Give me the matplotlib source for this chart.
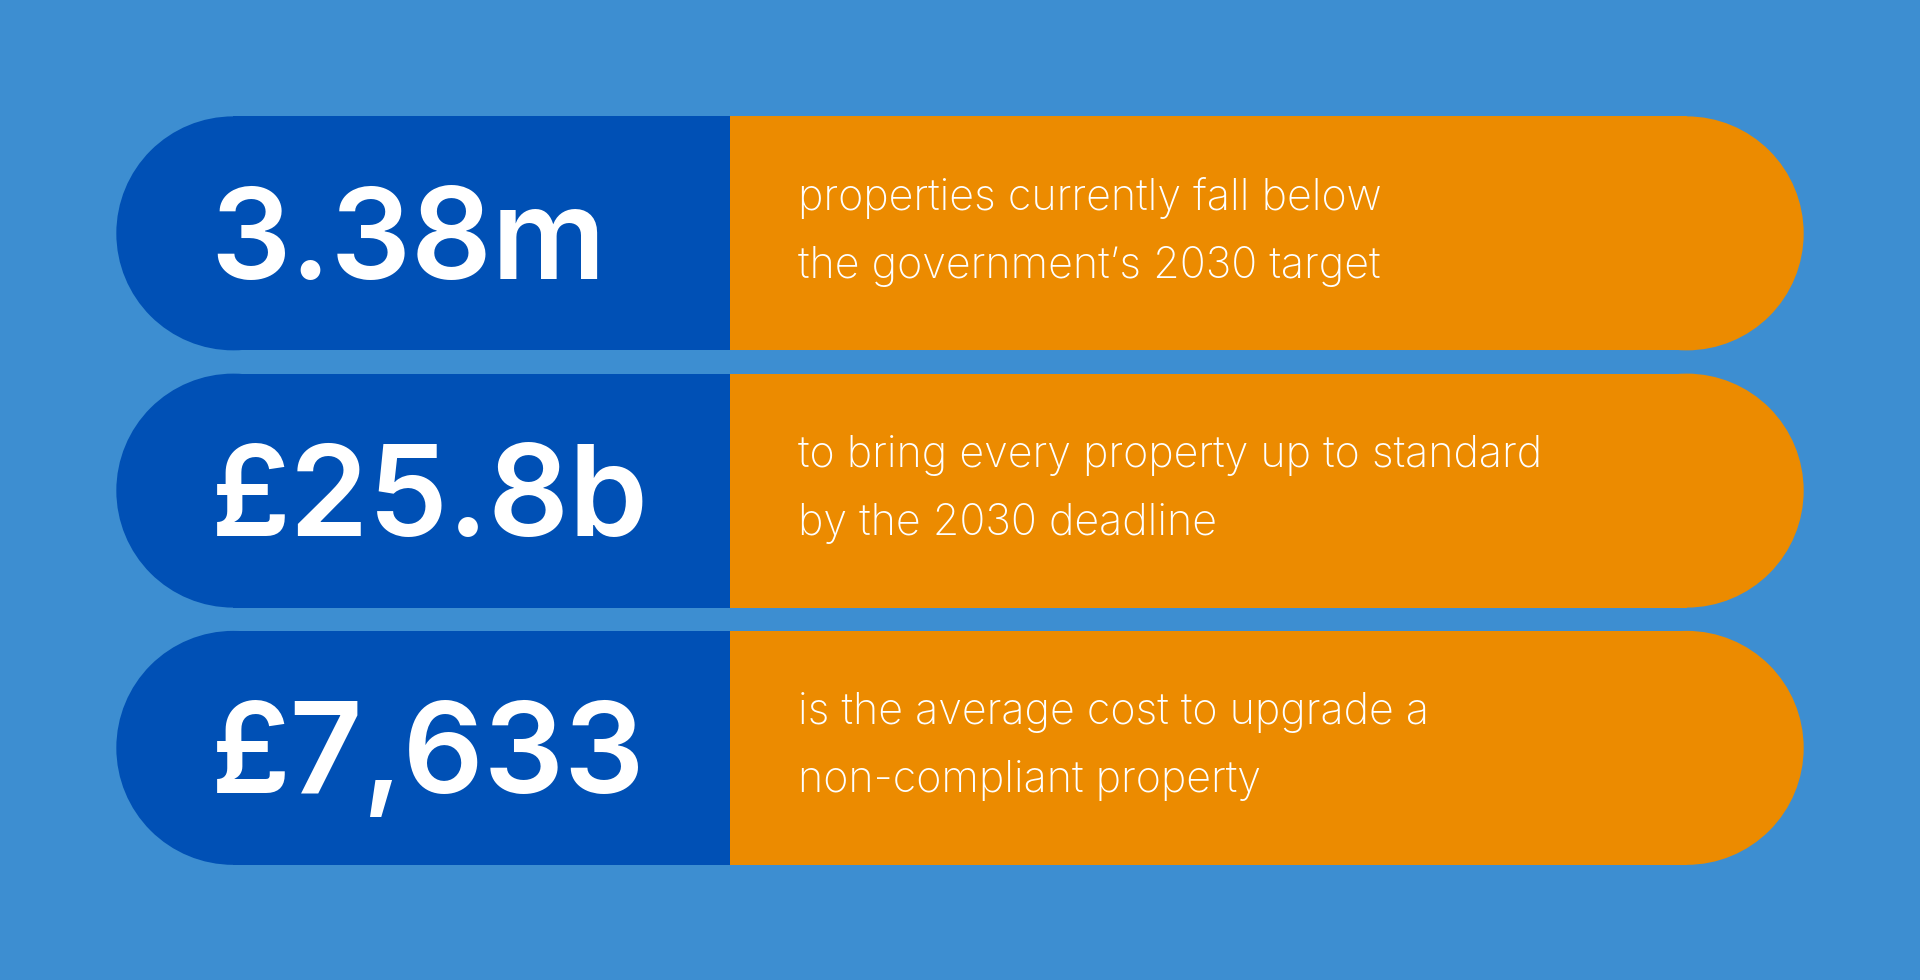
import matplotlib
matplotlib.use("Agg")
import matplotlib.pyplot as plt
from matplotlib.patches import Rectangle, Ellipse

values = ["3.38m", "£25.8b", "£7,633"]
descriptions = [
    "properties currently fall below\nthe government\u2019s 2030 target",
    "to bring every property up to standard\nby the 2030 deadline",
    "is the average cost to upgrade a\nnon-compliant property",
]

BG = "#3d8ed1"
BLUE = "#0050b5"
ORANGE = "#ec8b00"

fig = plt.figure(figsize=(19.2, 9.8), dpi=100)
fig.patch.set_facecolor(BG)
ax = fig.add_axes([0, 0, 1, 1])
ax.set_xlim(0, 1568)
ax.set_ylim(800, 0)
ax.axis("off")

x0, xs, x1 = 95, 596, 1473
h = 191
tops = [95, 305, 515]
r = h / 2
for top, val, desc in zip(tops, values, descriptions):
    cy = top + r
    ax.add_patch(Ellipse((x0 + r, cy), h, h, color=BLUE, lw=0))
    ax.add_patch(Rectangle((x0 + r, top), xs - x0 - r, h, color=BLUE, lw=0))
    ax.add_patch(Rectangle((xs, top), x1 - r - xs, h, color=ORANGE, lw=0))
    ax.add_patch(Ellipse((x1 - r, cy), h, h, color=ORANGE, lw=0))
    ax.text(172, cy + 10, val, color="white", fontsize=91, fontweight="semibold",
            family=["Inter", "DejaVu Sans"], va="center", ha="left")
    ax.text(652, cy - 1, desc, color="white", fontsize=31, fontweight="light",
            family=["Inter", "DejaVu Sans"], va="center", ha="left", linespacing=1.85)

fig.savefig("out.png", dpi=100, facecolor=BG)
